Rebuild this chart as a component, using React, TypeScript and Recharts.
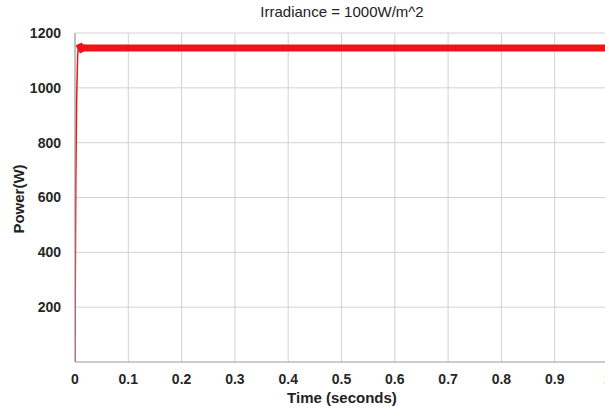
import { LineChart, Line, XAxis, YAxis, CartesianGrid } from "recharts"

const startTime = [0, 0.0005, 0.0015, 0.003, 0.005, 0.007, 0.009]
const startPower = [0, 250, 650, 950, 1120, 1160, 1150]

const runTime = [0.007, 0.009, 0.012, 0.016, 0.02, 0.1, 0.3, 0.5, 0.7, 0.9, 1.0]
const runPower = [1160, 1152, 1142, 1146, 1145, 1145, 1145, 1145, 1145, 1145, 1145]

const xTicks = [0, 0.1, 0.2, 0.3, 0.4, 0.5, 0.6, 0.7, 0.8, 0.9, 1]
const yTicks = [200, 400, 600, 800, 1000, 1200]

const startData = startTime.map((t, i) => ({ t, p: startPower[i] }))
const runData = runTime.map((t, i) => ({ t, p: runPower[i] }))

const font = "'Liberation Sans', Arial, sans-serif"
const tickStyle = { fontSize: 14, fontWeight: 700, fill: "#262626", fontFamily: font }

export default function App() {
  return (
    <div style={{ position: "absolute", left: 0, top: 0, width: 605, height: 411, overflow: "hidden", background: "#fff", fontFamily: font }}>
      <div style={{ position: "absolute", top: 3, left: 0, width: 684, textAlign: "center", fontSize: 15, color: "#222" }}>
        Irradiance = 1000W/m^2
      </div>
      <div style={{ position: "absolute", top: 389, left: 0, width: 684, textAlign: "center", fontSize: 15, fontWeight: 700, color: "#222" }}>
        Time (seconds)
      </div>
      <div style={{ position: "absolute", left: 18, top: 199, transform: "translate(-50%, -50%) rotate(-90deg)", fontSize: 15, fontWeight: 700, color: "#222", whiteSpace: "nowrap" }}>
        Power(W)
      </div>
      <LineChart width={650} height={411} margin={{ top: 33, right: 42, bottom: 0, left: 0 }}>
        <CartesianGrid stroke="#d2d2d2" strokeWidth={1} horizontalValues={yTicks} verticalValues={xTicks} />
        <XAxis
          type="number"
          dataKey="t"
          domain={[0, 1]}
          ticks={xTicks}
          tickFormatter={(v: number) => String(v)}
          tick={tickStyle}
          tickLine={false}
          tickSize={0}
          tickMargin={12}
          axisLine={{ stroke: "#9a9a9a" }}
          height={49}
          allowDataOverflow
        />
        <YAxis
          type="number"
          domain={[0, 1200]}
          ticks={yTicks}
          tick={tickStyle}
          tickLine={false}
          tickSize={0}
          tickMargin={14}
          axisLine={{ stroke: "#9a9a9a" }}
          width={75}
        />
        <Line data={startData} dataKey="p" type="linear" stroke="#ee1418" strokeWidth={1.5} dot={false} isAnimationActive={false} />
        <Line data={runData} dataKey="p" type="linear" stroke="#ee1418" strokeWidth={7} dot={false} isAnimationActive={false} />
      </LineChart>
    </div>
  )
}
